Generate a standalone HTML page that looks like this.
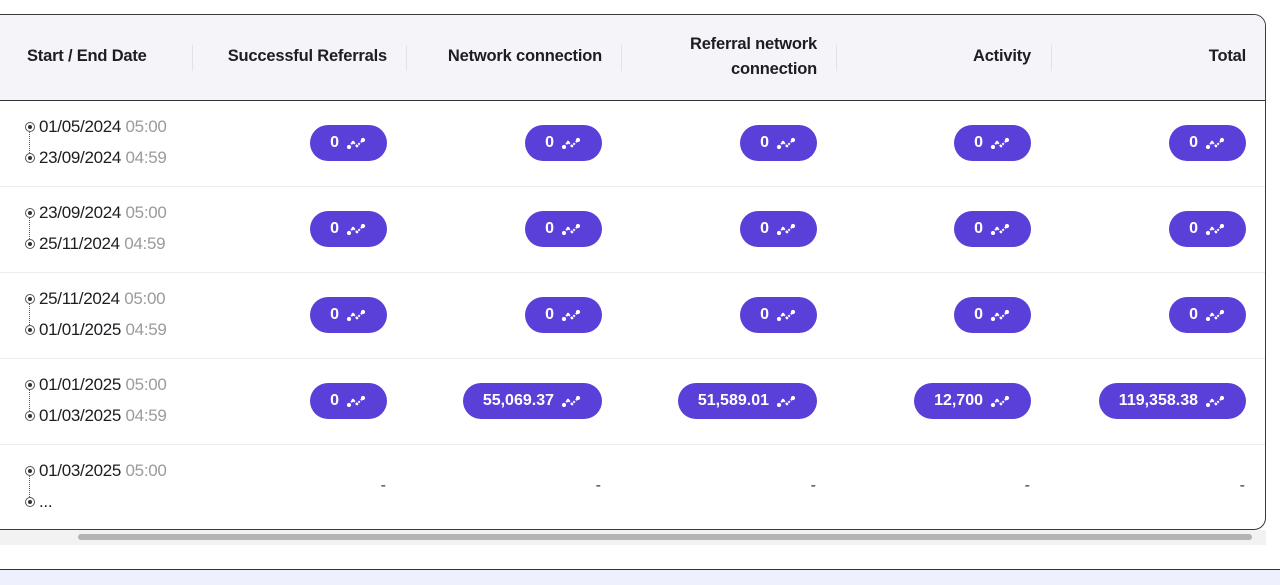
<!DOCTYPE html>
<html><head><meta charset="utf-8"><style>
*{box-sizing:border-box;margin:0;padding:0}
body{width:1280px;height:585px;background:#fff;position:relative;overflow:hidden;font-family:"Liberation Sans",Arial,sans-serif;color:#1d1d22}
.tbl{position:absolute;left:-10px;top:14px;width:1276px;height:516px;border:1.5px solid #3a3a40;border-radius:0 12px 12px 0;background:#fff;overflow:hidden}
.hdr{position:absolute;left:0;top:0;width:100%;height:86px;background:#f4f4f9;border-bottom:1.5px solid #333}
.h{position:absolute;font-weight:bold;font-size:16.5px;text-align:right;line-height:25px;letter-spacing:-0.2px}
.sep{position:absolute;top:30px;width:1px;height:26px;background:#e2e2ea}
.row{position:absolute;left:0;width:100%;border-bottom:1px solid #ececf0}
.pill{position:absolute;height:36px;border-radius:18px;background:#5a3fd8;color:#fff;font-weight:bold;font-size:16px;display:flex;align-items:center;padding:0 21px 0 20px;white-space:nowrap}
.pill svg{margin-left:7px}
.d{position:absolute;font-size:17px;line-height:20px;white-space:nowrap;letter-spacing:-0.3px}
.d span{color:#9a9a9f}
.dot{position:absolute;width:10px;height:10px;border-radius:50%;border:1.5px solid #555;background:#fff}
.dot:after{content:"";position:absolute;left:1.5px;top:1.5px;width:4px;height:4px;border-radius:50%;background:#333}
.vl{position:absolute;width:0;border-left:1.5px dotted #555}
.dash{position:absolute;font-size:16px;color:#333}
</style></head><body>
<div class="tbl">
 <div class="hdr">
  <div class="h" style="left:36px;top:29px;text-align:left">Start / End Date</div>
  <div class="sep" style="left:201px"></div>
  <div class="h" style="right:878px;top:29px">Successful Referrals</div>
  <div class="sep" style="left:415px"></div>
  <div class="h" style="right:663px;top:29px">Network connection</div>
  <div class="sep" style="left:630px"></div>
  <div class="h" style="right:448px;top:17px">Referral network<br>connection</div>
  <div class="sep" style="left:845px"></div>
  <div class="h" style="right:234px;top:29px">Activity</div>
  <div class="sep" style="left:1060px"></div>
  <div class="h" style="right:19px;top:29px">Total</div>
 </div>
 <div class="row" style="top:86px;height:86px"></div>
 <div class="row" style="top:172px;height:86px"></div>
 <div class="row" style="top:258px;height:86px"></div>
 <div class="row" style="top:344px;height:86px"></div>
</div>
<div id="c"></div>
<div style="position:absolute;left:0;top:530px;width:1266px;height:15px;background:#f2f2f2"></div>
<div style="position:absolute;left:78px;top:534px;width:1174px;height:6px;border-radius:3px;background:#b3b3b3"></div>
<div style="position:absolute;left:0;top:569px;width:1280px;height:16px;background:#eef1fd;border-top:1.5px solid #333"></div>
<script>
var rights=[387,602,817,1031,1246];
var rows=[
 ["01/05/2024","05:00","23/09/2024","04:59",["0","0","0","0","0"]],
 ["23/09/2024","05:00","25/11/2024","04:59",["0","0","0","0","0"]],
 ["25/11/2024","05:00","01/01/2025","04:59",["0","0","0","0","0"]],
 ["01/01/2025","05:00","01/03/2025","04:59",["0","55,069.37","51,589.01","12,700","119,358.38"]],
 ["01/03/2025","05:00","...","",null]
];
var icon='<svg width="20" height="12" viewBox="0 0 20 12"><polyline points="3,10 7,5 11,9 17,3" fill="none" stroke="#fff" stroke-width="2" stroke-dasharray="2 1.5"/><circle cx="3" cy="10" r="2.1" fill="#fff"/><circle cx="17" cy="3" r="2.1" fill="#fff"/><circle cx="7" cy="5" r="1.3" fill="#fff"/><circle cx="11" cy="9" r="1.3" fill="#fff"/></svg>';
var h='';
rows.forEach(function(r,i){
 var top=100+i*86, mid=top+43;
 var y1=top+27, y2=top+58;
 h+='<div class="dot" style="left:25px;top:'+(y1-5)+'px"></div>';
 h+='<div class="vl" style="left:29px;top:'+(y1+5)+'px;height:'+(y2-y1-10)+'px"></div>';
 h+='<div class="dot" style="left:25px;top:'+(y2-5)+'px"></div>';
 h+='<div class="d" style="left:39px;top:'+(y1-10)+'px">'+r[0]+' <span>'+r[1]+'</span></div>';
 h+='<div class="d" style="left:39px;top:'+(y2-10)+'px">'+r[2]+(r[3]?' <span>'+r[3]+'</span>':'')+'</div>';
 rights.forEach(function(x,j){
  if(r[4]) h+='<div class="pill" style="right:'+(1280-x)+'px;top:'+(mid-18)+'px">'+r[4][j]+icon+'</div>';
  else h+='<div class="dash" style="right:'+(1280-x+1)+'px;top:'+(mid-10)+'px">-</div>';
 });
});
document.getElementById('c').innerHTML=h;
</script>
</body></html>
